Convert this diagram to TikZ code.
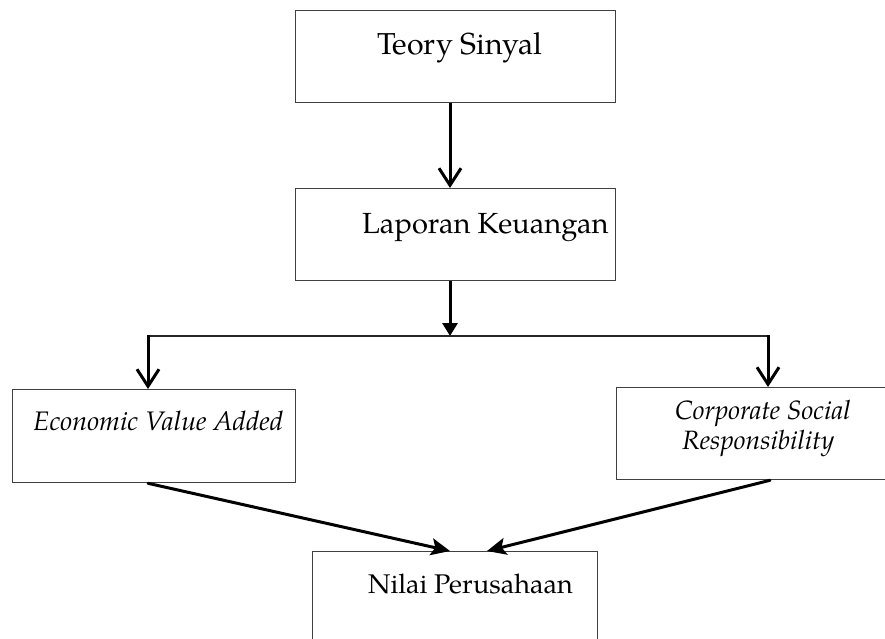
\documentclass[tikz,border=0pt]{standalone}
\usepackage{fontspec}
\setmainfont{texgyrepagella}[Extension=.otf,UprightFont=*-regular,ItalicFont=*-italic,BoldFont=*-bold,BoldItalicFont=*-bolditalic]
\usetikzlibrary{arrows.meta,calc}
\begin{document}
\begin{tikzpicture}[x=1pt,y=-1pt,
  box/.style={draw=black!75,line width=1.3pt,rectangle,inner sep=0pt,anchor=north west},
  txt/.style={inner sep=0pt,anchor=base west,font=\fontsize{27}{30}\selectfont},
  itxt/.style={inner sep=0pt,anchor=base west,font=\fontsize{26.5}{30}\selectfont\itshape},
  openarrow/.style={line width=3pt,-{Straight Barb[length=17pt,width=22pt,line width=3pt]}},
  fillarrow/.style={line width=3pt,-{Triangle[length=13pt,width=15pt]}},
  diagarrow/.style={line width=3pt,line cap=round,-{Stealth[length=19pt,width=17pt,inset=4pt]}},
  thinline/.style={line width=1.5pt,draw=black!85}]
\useasboundingbox (0,0) rectangle (885,639);
\clip (0,0) rectangle (885,639);
% boxes
\node[box,minimum width=320pt,minimum height=92pt] (b1) at (295,10) {};
\node[box,minimum width=320pt,minimum height=92pt] (b2) at (295,188) {};
\node[box,minimum width=283pt,minimum height=93pt] (eva) at (12,389) {};
\node[box,minimum width=280pt,minimum height=92pt] (csr) at (616,387) {};
\node[box,minimum width=285pt,minimum height=100pt] (nilai) at (312,551) {};
% texts
\node[txt,font=\fontsize{30.3}{34}\selectfont] (t1) at (377,55) {Teory Sinyal};
\node[txt,font=\fontsize{29.1}{34}\selectfont] (t2) at (362,233) {Laporan Keuangan};
\node[itxt,font=\fontsize{26.8}{30}\selectfont\itshape] (t3) at (33,430) {Economic Value Added};
\node[itxt] (t4a) at (675,419) {Corporate Social};
\node[itxt] (t4b) at (682,449) {Responsibility};
\node[txt] (t5) at (368,593) {Nilai Perusahaan};
% junction coordinates
\coordinate (j) at (450,336);
\coordinate (jl) at (148,336);
\coordinate (jr) at (768,336);
\coordinate (el) at (148,0);
\coordinate (er) at (770,0);
\coordinate (nl) at (450,0);
\coordinate (nr) at (487,0);
% connectors
\draw[openarrow] (b1.south -| j) -- (b2.north -| j);
\draw[fillarrow] (b2.south -| j) -- (j);
\draw[thinline] (jl) -- (jr);
\draw[openarrow] ($(jl)+(0,-0.7)$) -- (eva.north -| jl);
\draw[openarrow] ($(jr)+(0,-0.7)$) -- (csr.north -| jr);
\draw[diagarrow] (eva.south -| el) -- (nilai.north -| nl);
\draw[diagarrow] (csr.south -| er) -- (nilai.north -| nr);
\end{tikzpicture}
\end{document}
